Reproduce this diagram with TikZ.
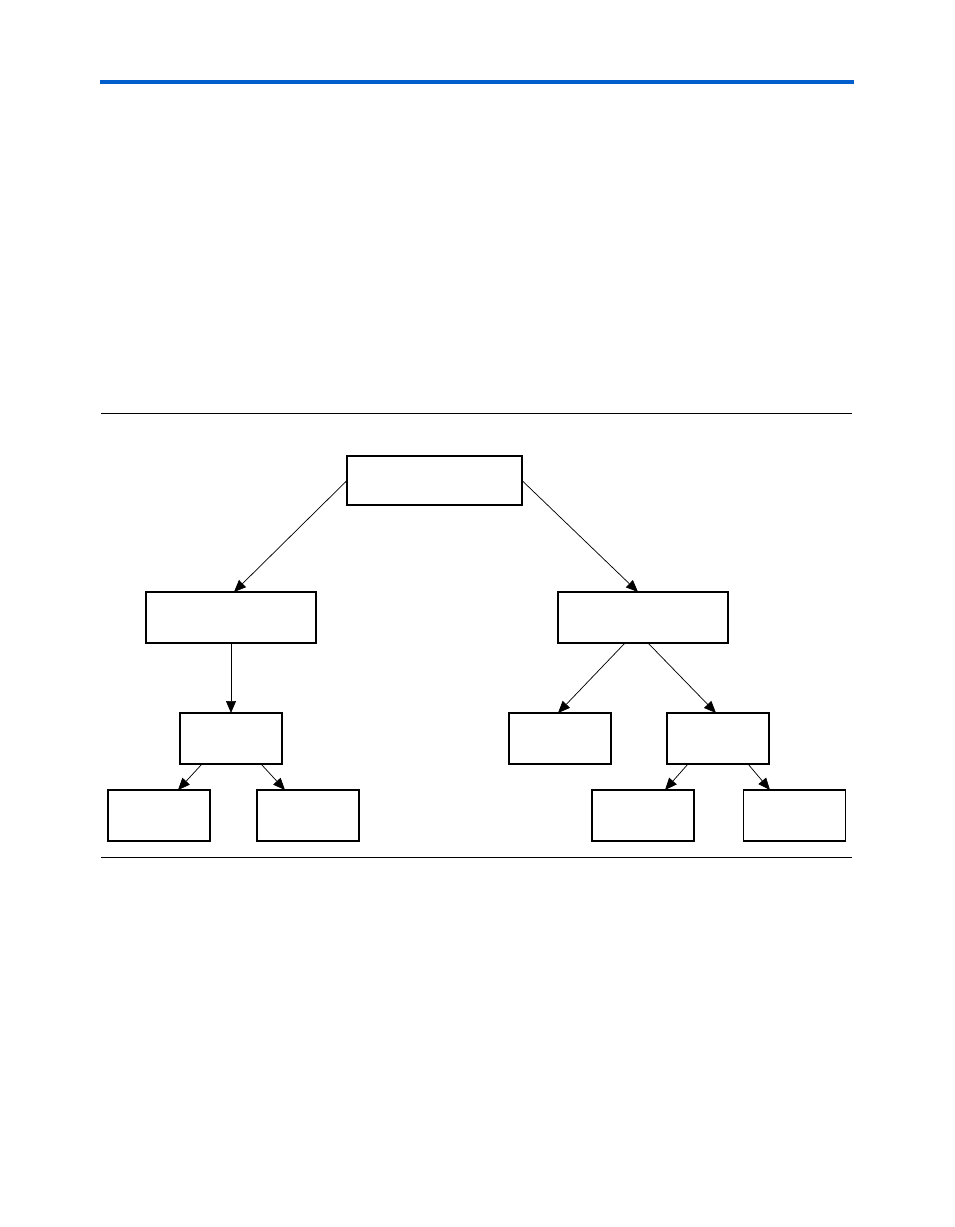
\documentclass[tikz,border=0pt]{standalone}
\usetikzlibrary{arrows.meta}
\definecolor{pageblue}{RGB}{0,94,204}
\tikzset{
  box/.style={draw,line width=0.9pt,inner sep=0pt,outer sep=0pt,fill=white},
  bigbox/.style={box,minimum width=131.25pt,minimum height=36.75pt},
  midbox/.style={box,minimum width=127.5pt,minimum height=38.25pt},
  smallbox/.style={box,minimum width=76.5pt,minimum height=38.25pt},
  link/.style={line width=0.55pt,-{Triangle[length=9pt,width=7.5pt]}}
}
\begin{document}
\begin{tikzpicture}[x=0.75pt,y=-0.75pt]
    \useasboundingbox (0,0) rectangle (954,1227);

    % cabecera de la pagina
    \draw[pageblue,line width=3pt] (100,82.5) -- (854,82.5);

    % lineas de la figura
    \draw[line width=0.7pt] (101,413) -- (852,413);
    \draw[line width=0.7pt] (101,857) -- (852,857);

    % raiz
    \node[bigbox] (root) at (434.5,480.5) {};

    % segundo nivel
    \node[midbox] (left)  at (231,617.5) {};
    \node[midbox] (right) at (643,617.5) {};

    % tercer nivel
    \node[smallbox] (lmid)   at (231,738.5) {};
    \node[smallbox] (rleaf)  at (560,738.5) {};
    \node[smallbox] (rmid)   at (718,738.5) {};

    % hojas
    \foreach \n\x in {ll/159,lr/308,rl/643,rr/794.5}{
      \node[smallbox] (\n) at (\x,815.5) {};
    }

    % flechas
    \draw[link] (root.west) -- ([xshift=2.25pt]left.north);
    \draw[link] (root.east) -- ([xshift=-3.75pt]right.north);
    \draw[link] (left.south) -- (lmid.north);
    \draw[link] ([xshift=-13.5pt]right.south) -- ([xshift=-1.5pt]rleaf.north);
    \draw[link] ([xshift=3.75pt]right.south) -- ([xshift=-1.5pt]rmid.north);
    \draw[link] ([xshift=-21.75pt]lmid.south) -- ([xshift=14.25pt]ll.north);
    \draw[link] ([xshift=22.5pt]lmid.south) -- ([xshift=-17.25pt]lr.north);
    \draw[link] ([xshift=-22.5pt]rmid.south) -- ([xshift=16.5pt]rl.north);
    \draw[link] ([xshift=22.5pt]rmid.south) -- ([xshift=-18.4pt]rr.north);
  \end{tikzpicture}
\end{document}
